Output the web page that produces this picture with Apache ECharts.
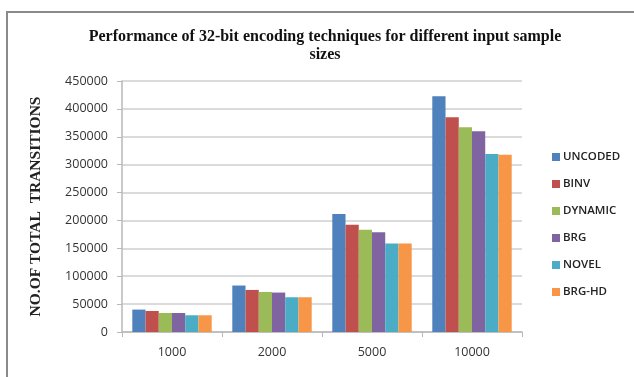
<!DOCTYPE html>
<html>
<head>
<meta charset="utf-8">
<script src="https://cdn.jsdelivr.net/npm/echarts@6/dist/echarts.min.js"></script>
<style>html,body{margin:0;padding:0;background:#fff}#c{width:634px;height:377px}</style>
</head>
<body>
<div id="c"></div>
<script>
const categories = ['1000', '2000', '5000', '10000'];
const seriesNames = ['UNCODED', 'BINV', 'DYNAMIC', 'BRG', 'NOVEL', 'BRG-HD'];
const uncoded = [40200, 83300, 211400, 422600];
const binv = [37700, 75400, 192100, 384900];
const dynamic = [34100, 71800, 183100, 367000];
const brg = [34100, 70700, 179000, 359800];
const novel = [30000, 62300, 158700, 319000];
const brgHd = [30000, 62300, 158700, 317800];
const colors = ['#4F81BD', '#C0504D', '#9BBB59', '#8064A2', '#4BACC6', '#F79646'];
const values = [uncoded, binv, dynamic, brg, novel, brgHd];

const chart = echarts.init(document.getElementById('c'));
chart.setOption({
  animation: false,
  title: {
    text: 'Performance of 32-bit encoding techniques for different input sample\nsizes',
    left: 320, textAlign: 'center', top: 23,
    textStyle: { fontFamily: 'Liberation Serif', fontWeight: 'bold', fontSize: 16, color: '#111', lineHeight: 18 }
  },
  graphic: [{
    type: 'polyline', silent: true,
    shape: { points: [[7, 380], [7, 12], [640, 12]] },
    style: { stroke: '#8a8a8a', lineWidth: 2, fill: null }
  }],
  legend: {
    orient: 'vertical', left: 547, top: 146, itemWidth: 8, itemHeight: 8, itemGap: 15,
    icon: 'rect',
    textStyle: { fontFamily: 'Open Sans', fontSize: 11.5, fontWeight: 600, color: '#222', padding: [0, 0, 0, -2] },
    data: seriesNames
  },
  grid: { left: 122, right: 112, top: 81, bottom: 45 },
  xAxis: {
    type: 'category', data: categories,
    axisLine: { lineStyle: { color: '#b8b8b8', width: 1.5 } },
    axisTick: { show: true, length: 5, lineStyle: { color: '#b8b8b8' } },
    axisLabel: { fontFamily: 'Open Sans', fontSize: 12.5, color: '#333', margin: 14 }
  },
  yAxis: {
    type: 'value', min: 0, max: 450000, interval: 50000,
    name: 'NO.OF TOTAL  TRANSITIONS', nameLocation: 'middle', nameGap: 78, nameRotate: 90,
    nameTextStyle: { fontFamily: 'Liberation Serif', fontWeight: 'bold', fontSize: 15.5, color: '#222' },
    axisLine: { show: true, lineStyle: { color: '#b8b8b8', width: 1.5 } },
    axisTick: { show: true, length: 5, lineStyle: { color: '#b8b8b8' } },
    axisLabel: { fontFamily: 'Open Sans', fontSize: 12.5, color: '#333', margin: 14, formatter: v => String(v) },
    splitLine: { lineStyle: { color: '#cfcfcf', width: 1.5 } }
  },
  series: seriesNames.map((n, i) => ({
    name: n, type: 'bar', data: values[i],
    itemStyle: { color: colors[i] },
    barGap: '0%', barCategoryGap: '20.6%'
  }))
});
</script>
</body>
</html>
